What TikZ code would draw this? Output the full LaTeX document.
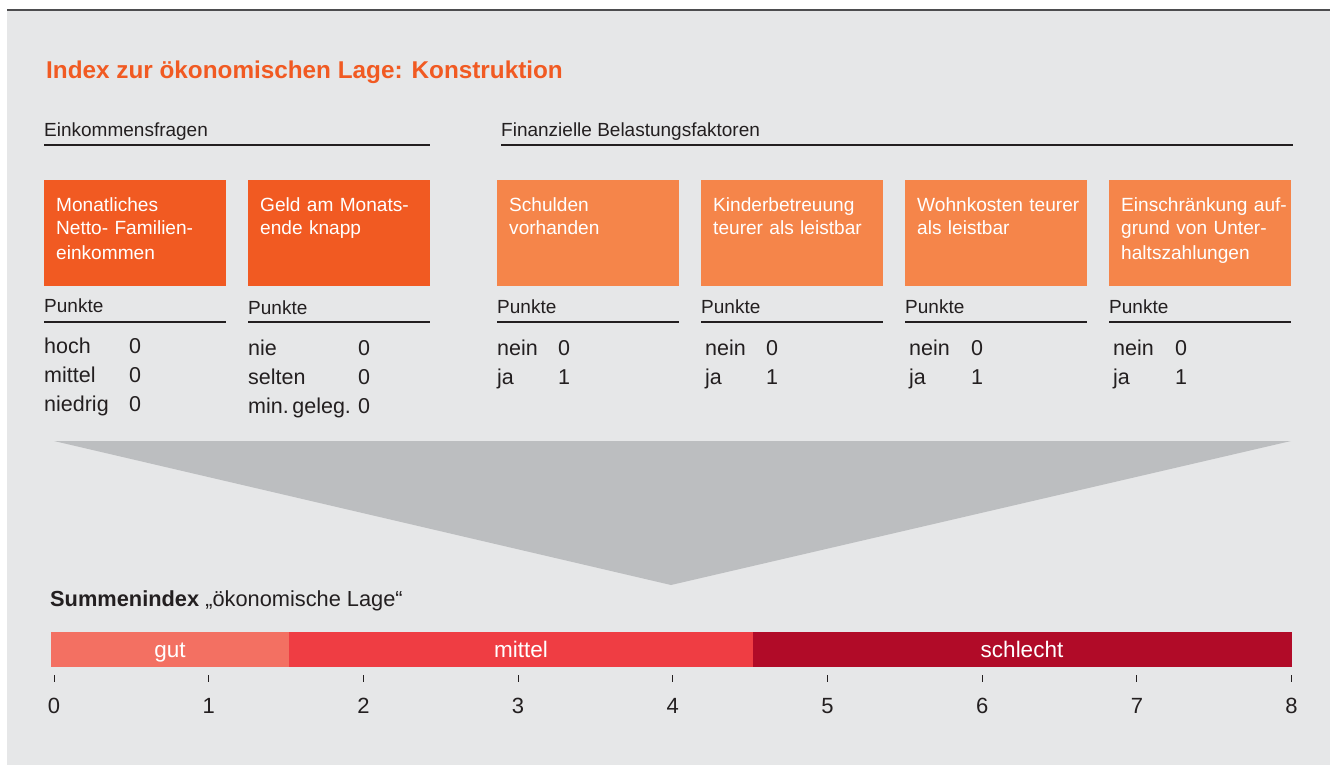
\documentclass[tikz,border=0pt]{standalone}
\usepackage{fontspec}
\setmainfont{Liberation Sans}
\definecolor{bggray}{HTML}{E6E7E8}
\definecolor{topline}{HTML}{4D4D4F}
\definecolor{txtgray}{HTML}{231F20}
\definecolor{orangedark}{HTML}{F15A22}
\definecolor{orangelight}{HTML}{F5854A}
\definecolor{funnelgray}{HTML}{BCBEC0}
\definecolor{gutcol}{HTML}{F37062}
\definecolor{mittelcol}{HTML}{EF3D43}
\definecolor{schlechtcol}{HTML}{B10B28}

\tikzset{
  titletext/.style={anchor=base west, inner sep=0pt, text=orangedark, font=\fontsize{24.3}{28}\selectfont\bfseries},
  headtext/.style={anchor=base west, inner sep=0pt, text=txtgray, font=\fontsize{19}{22}\selectfont},
  boxtext/.style={anchor=base west, inner sep=0pt, text=white, text width=175pt, align=left, font=\fontsize{19.1}{24}\selectfont},
  valtext/.style={anchor=base west, inner sep=0pt, text=txtgray, text width=110pt, align=left, font=\fontsize{21.5}{29}\selectfont},
  bartext/.style={anchor=base, inner sep=0pt, text=white, font=\fontsize{22.5}{26}\selectfont},
  numtext/.style={anchor=base, inner sep=0pt, text=txtgray, font=\fontsize{22}{26}\selectfont},
  underline/.style={draw=txtgray, line width=1.1pt},
  tickline/.style={draw=txtgray, line width=0.9pt}
}

\begin{document}
\begin{tikzpicture}[x=1pt, y=-1pt]
  \useasboundingbox (0,0) rectangle (1333,765);
  \fill[bggray] (7,10) rectangle (1330,765);
  \draw[topline, line width=1.8pt] (7,10) -- (1330,10);

  \node[titletext] (title) at (46,79) {Index zur ökonomischen Lage: Konstruktion};

  % Gruppen
  \node[headtext] (einkommen) at (44,137) {Einkommensfragen};
  \draw[underline] (44,145) -- (430,145);
  \node[headtext] (belastung) at (501,137) {Finanzielle Belastungsfaktoren};
  \draw[underline] (501,145) -- (1293,145);

  % Einkommensfragen
  \fill[orangedark] (44,180) rectangle (226,286);
  \node[boxtext] (netto) at (56,211) {Monatliches\\Netto- Familien-\\einkommen};
  \node[headtext] (p1) at (44,312) {Punkte};
  \draw[underline] (44,322) -- (226,322);
  \node[valtext] (v1) at (44,353) {hoch\\mittel\\niedrig};
  \node[valtext, text width=20pt] (w1) at (129,353) {0\\0\\0};

  \fill[orangedark] (248,180) rectangle (430,286);
  \node[boxtext] (knapp) at (260,211) {Geld am Monats-\\ende knapp};
  \node[headtext] (p2) at (248,314) {Punkte};
  \draw[underline] (248,322) -- (430,322);
  \node[valtext] (v2) at (248,355) {nie\\selten\\min.\,geleg.};
  \node[valtext, text width=20pt] (w2) at (358,355) {0\\0\\0};

  % Belastungsfaktoren
  \fill[orangelight] (497,180) rectangle (679,286);
  \node[boxtext] (schulden) at (509,211) {Schulden\\vorhanden};
  \node[headtext] (p3) at (497,313) {Punkte};
  \draw[underline] (497,322) -- (679,322);
  \node[valtext] (v3) at (497,355) {nein\\ja};
  \node[valtext, text width=20pt] (w3) at (558,355) {0\\1};

  \fill[orangelight] (701,180) rectangle (883,286);
  \node[boxtext] (kinder) at (713,211) {Kinderbetreuung\\teurer als leistbar};
  \node[headtext] (p4) at (701,313) {Punkte};
  \draw[underline] (701,322) -- (883,322);
  \node[valtext] (v4) at (705,355) {nein\\ja};
  \node[valtext, text width=20pt] (w4) at (766,355) {0\\1};

  \fill[orangelight] (905,180) rectangle (1087,286);
  \node[boxtext] (wohnen) at (917,211) {Wohnkosten teurer\\als leistbar};
  \node[headtext] (p5) at (905,313) {Punkte};
  \draw[underline] (905,322) -- (1087,322);
  \node[valtext] (v5) at (909,355) {nein\\ja};
  \node[valtext, text width=20pt] (w5) at (971,355) {0\\1};

  \fill[orangelight] (1109,180) rectangle (1291,286);
  \node[boxtext] (unterhalt) at (1121,211) {Einschränkung auf-\\grund von Unter-\\haltszahlungen};
  \node[headtext] (p6) at (1109,313) {Punkte};
  \draw[underline] (1109,322) -- (1291,322);
  \node[valtext] (v6) at (1113,355) {nein\\ja};
  \node[valtext, text width=20pt] (w6) at (1175,355) {0\\1};

  % Trichter
  \fill[funnelgray] (54,441) -- (1291,441) -- (671,585) -- cycle;

  % Summenindex
  \node[headtext, font=\fontsize{21.8}{26}\selectfont] (summe) at (50,606) {\textbf{Summenindex} „ökonomische Lage“};
  \fill[gutcol] (51,632) rectangle (289,667);
  \fill[mittelcol] (289,632) rectangle (753,667);
  \fill[schlechtcol] (753,632) rectangle (1292,667);
  \node[bartext] (gut) at (170,657) {gut};
  \node[bartext] (mittel) at (521,657) {mittel};
  \node[bartext] (schlecht) at (1022,657) {schlecht};

  \foreach \i in {0,...,8} {
    \draw[tickline] ({54+154.7*\i},675) -- ({54+154.7*\i},682);
    \node[numtext] (n\i) at ({54+154.7*\i},713) {\i};
  }
\end{tikzpicture}
\end{document}
